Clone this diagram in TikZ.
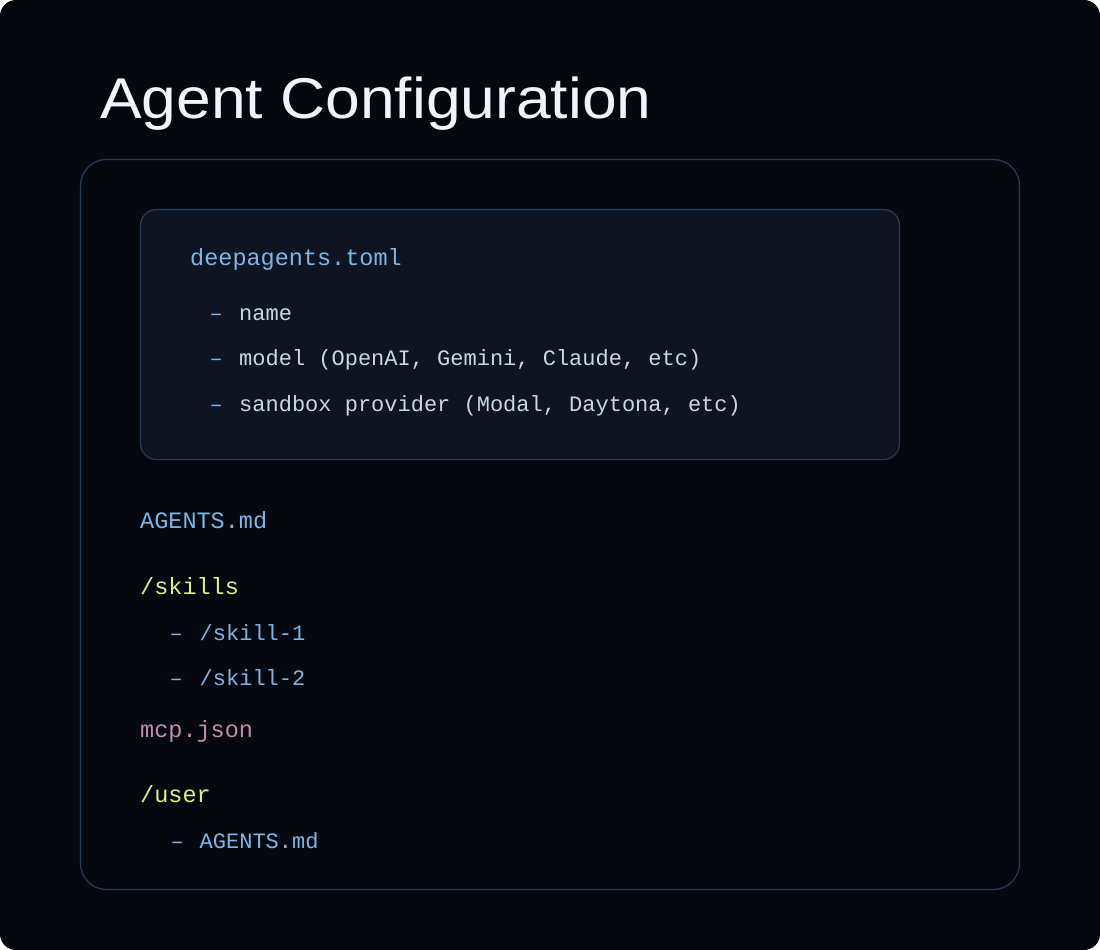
\documentclass[tikz,border=0pt]{standalone}
\usepackage{fontspec}
\setmainfont{Liberation Sans}
\setmonofont{Liberation Mono}
\definecolor{bg}{HTML}{05080F}
\definecolor{boxline}{HTML}{2A3D58}
\definecolor{boxfill}{HTML}{0E1422}
\definecolor{fileblue}{HTML}{7DB6E6}
\definecolor{itemtxt}{HTML}{C9D6E6}
\definecolor{dirgreen}{HTML}{DDEE88}
\definecolor{jsonpink}{HTML}{C48BAE}
\definecolor{titlecol}{HTML}{F2F4F7}
\tikzset{
  mono/.style={anchor=base west, inner sep=0pt, font=\fontsize{22}{26}\selectfont\ttfamily},
  head/.style={anchor=base west, inner sep=0pt, font=\fontsize{23.5}{28}\selectfont\ttfamily},
  fileitem/.style={head, text=fileblue},
  diritem/.style={head, text=dirgreen},
  listitem/.style={mono, text=itemtxt},
  subitem/.style={mono, text=fileblue},
  dashmark/.style={mono, text=fileblue},
}
\begin{document}
\begin{tikzpicture}[x=1pt,y=-1pt]
\useasboundingbox (0,0) rectangle (1100,950);
\fill[white] (0,0) rectangle (1100,950);
\fill[bg, rounded corners=16pt] (0,0) rectangle (1100,950);
\node[anchor=base west, inner sep=0pt, text=titlecol, font=\fontsize{57.5}{66}\selectfont] (title) at (100,118) {\scalebox{1.085}[1]{Agent Configuration}};
\draw[boxline, line width=1.2pt, rounded corners=26pt] (80.5,159.5) rectangle (1019.5,889.5);
\draw[boxline, fill=boxfill, line width=1.2pt, rounded corners=16pt] (140.5,209.5) rectangle (899.5,459.5);
\node[fileitem] (toml) at (190,265) {deepagents.toml};
\node[dashmark] (d1) at (209.5,320) {–};
\node[listitem] (t1) at (239,320) {name};
\node[dashmark] (d2) at (209.5,365) {–};
\node[listitem] (t2) at (239,365) {model (OpenAI, Gemini, Claude, etc)};
\node[dashmark] (d3) at (209.5,411) {–};
\node[listitem] (t3) at (239,411) {sandbox provider (Modal, Daytona, etc)};
\node[fileitem] (agents) at (140,528) {AGENTS.md};
\node[diritem] (skills) at (140,594) {/skills};
\node[dashmark] (sd1) at (169.5,640) {–};
\node[subitem] (s1) at (199.5,640) {/skill-1};
\node[dashmark] (sd2) at (169.5,685) {–};
\node[subitem] (s2) at (199.5,685) {/skill-2};
\node[head, text=jsonpink] (mcp) at (140,737) {mcp.json};
\node[diritem] (user) at (140,802) {/user};
\node[dashmark] (ud) at (170.5,848) {–};
\node[subitem] (ua) at (199.5,848) {AGENTS.md};
\end{tikzpicture}
\end{document}
